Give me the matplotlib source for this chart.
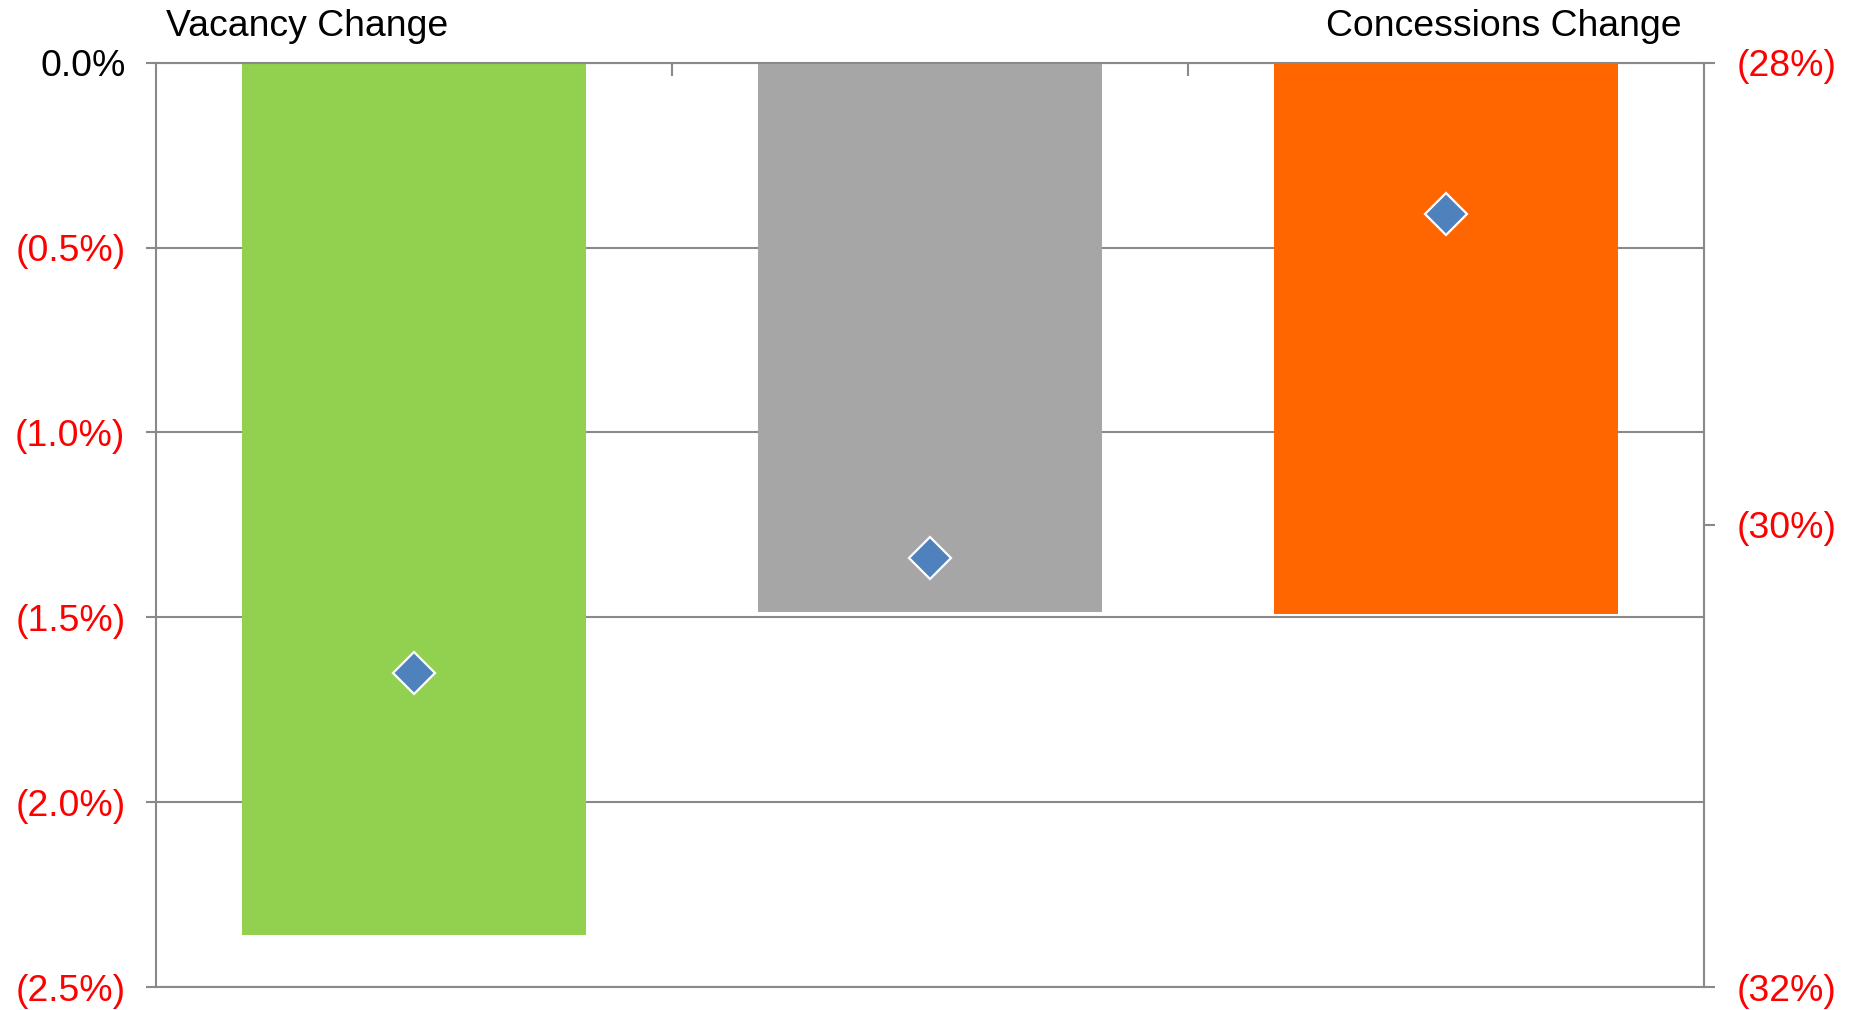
import matplotlib
matplotlib.use("Agg")
import matplotlib.pyplot as plt
from matplotlib.ticker import FixedLocator

plt.rcParams['font.family'] = ['Liberation Sans', 'DejaVu Sans']

# Data (percent)
categories = ["Vacancy", "Overall", "Concessions"]
bar_values = [-2.36, -1.485, -1.49]          # left-axis units
bar_colors = ["#92D050", "#A6A6A6", "#FF6600"]
marker_values = [-1.65, -1.34, -0.41]        # left-axis units
left_ticks = [0.0, -0.5, -1.0, -1.5, -2.0, -2.5]
left_labels = ["0.0%", "(0.5%)", "(1.0%)", "(1.5%)", "(2.0%)", "(2.5%)"]
right_ticks = [-28, -30, -32]
right_labels = ["(28%)", "(30%)", "(32%)"]

axis_gray = "#898989"
FS = 26.9

fig = plt.figure(figsize=(18.56, 10.10), dpi=100)
ax = fig.add_axes([0.08405, 0.02277, 0.9181 - 0.08405, 0.9379 - 0.02277])

x = list(range(len(categories)))
ax.bar(x, bar_values, width=0.667, color=bar_colors, zorder=2, linewidth=0)
ax.plot(x, marker_values, linestyle="none", marker="D", markersize=21,
        markerfacecolor="#4F81BD", markeredgecolor="white",
        markeredgewidth=1.6, zorder=3)

ax.set_xlim(-0.5, len(categories) - 0.5)
ax.set_ylim(-2.5, 0.0)

# Left axis
ax.yaxis.set_major_locator(FixedLocator(left_ticks))
ax.set_yticklabels(left_labels, fontsize=FS)
for lbl, v in zip(ax.get_yticklabels(), left_ticks):
    lbl.set_color("black" if v == 0 else "red")
ax.tick_params(axis="y", direction="out", length=7.5, width=1.5,
               color=axis_gray, pad=14.5)
ax.grid(axis="y", color=axis_gray, linewidth=1.5, zorder=1)
ax.set_axisbelow(True)

# Category axis sits along the top, ticks at category boundaries
ax.xaxis.set_major_locator(FixedLocator([0.5, 1.5]))
ax.xaxis.tick_top()
ax.tick_params(axis="x", direction="in", length=9, width=1.5,
               color=axis_gray, labeltop=False, labelbottom=False)

for side in ["left", "right", "top", "bottom"]:
    ax.spines[side].set_color(axis_gray)
    ax.spines[side].set_linewidth(1.5)

# Right axis (concessions scale)
ax2 = ax.twinx()
ax2.set_ylim(-32, -28)
ax2.yaxis.set_major_locator(FixedLocator(right_ticks))
ax2.set_yticklabels(right_labels, fontsize=FS, color="red")
ax2.tick_params(axis="y", direction="out", length=8, width=1.5,
                color=axis_gray, pad=15.5)
for side in ["left", "right", "top", "bottom"]:
    ax2.spines[side].set_visible(False)

fig.text(166 / 1856, 1 - 36.5 / 1010, "Vacancy Change", fontsize=FS,
         ha="left", va="baseline")
fig.text(1682 / 1856, 1 - 36.5 / 1010, "Concessions Change", fontsize=FS,
         ha="right", va="baseline")

fig.savefig("out.png", dpi=100, facecolor="white")
